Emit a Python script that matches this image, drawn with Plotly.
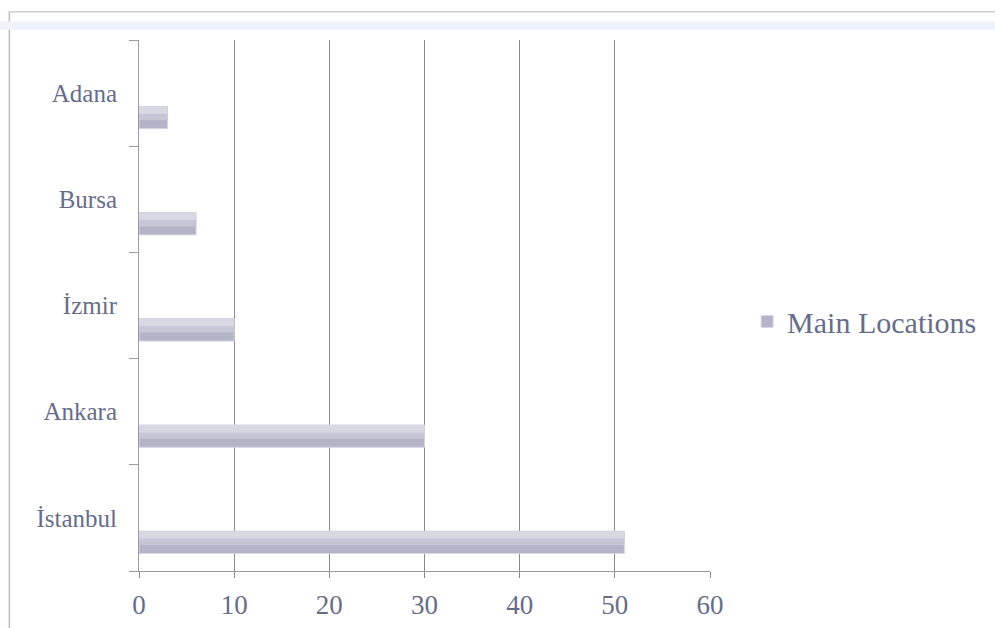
import plotly.graph_objects as go

categories = ["İstanbul", "Ankara", "İzmir", "Bursa", "Adana"]
values = [51, 30, 10, 6, 3]
series_name = "Main Locations"
x_ticks = [0, 10, 20, 30, 40, 50, 60]

txt = "#676d88"
font_fam = "Liberation Serif, Times New Roman, serif"

fig = go.Figure()
# base (darker lower part) + lighter upper slices to mimic the gradient fill
fig.add_trace(go.Bar(
    y=categories, x=values, orientation="h", name=series_name,
    width=0.21, offset=-0.335,
    marker=dict(color="#b3b4c7", line=dict(width=1, color="#d6d7e2")),
))
fig.add_trace(go.Bar(
    y=categories, x=values, orientation="h", showlegend=False,
    width=0.13, offset=-0.255,
    marker=dict(color="#c6c7d6", line=dict(width=0)),
    hoverinfo="skip",
))
fig.add_trace(go.Bar(
    y=categories, x=values, orientation="h", showlegend=False,
    width=0.07, offset=-0.195,
    marker=dict(color="#d8d8e3", line=dict(width=0)),
    hoverinfo="skip",
))

fig.update_layout(
    width=995, height=628,
    margin=dict(l=139, r=285, t=40, b=57),
    paper_bgcolor="white", plot_bgcolor="white",
    barmode="overlay",
    font=dict(family=font_fam, color=txt, size=24),
    showlegend=True,
    legend=dict(x=1.065, y=0.47, xanchor="left", yanchor="middle",
                font=dict(size=30, color=txt, family=font_fam),
                bgcolor="rgba(0,0,0,0)", itemwidth=30),
    xaxis=dict(range=[0, 60], tickvals=x_ticks, showgrid=True,
               gridcolor="#8a8a8a", gridwidth=1, showline=True,
               linecolor="#9a9aa8", linewidth=1, ticks="outside",
               ticklen=6, tickcolor="#8a8a8a", zeroline=False,
               tickfont=dict(size=27, color=txt), ticklabelstandoff=4,
               fixedrange=True, automargin=False),
    yaxis=dict(type="category", categoryorder="array", categoryarray=categories,
               showline=True, linecolor="#9a9aa8", linewidth=1,
               ticks="outside", tickson="boundaries", ticklen=9,
               tickcolor="#9a9aa8", showgrid=False, automargin=False,
               tickfont=dict(size=25, color=txt), ticklabelstandoff=16),
    shapes=[
        dict(type="line", xref="paper", yref="paper", x0=-0.227, x1=1.6,
             y0=1.053, y1=1.053, line=dict(color="#b8b8b8", width=1)),
        dict(type="line", xref="paper", yref="paper", x0=-0.227, x1=-0.227,
             y0=1.053, y1=-0.2, line=dict(color="#b8bccc", width=1.5)),
        dict(type="rect", xref="paper", yref="paper", x0=-0.3, x1=1.6,
             y0=1.02, y1=1.035, line=dict(width=0), fillcolor="#eef2fa"),
    ],
)

fig.write_html("out.html")
